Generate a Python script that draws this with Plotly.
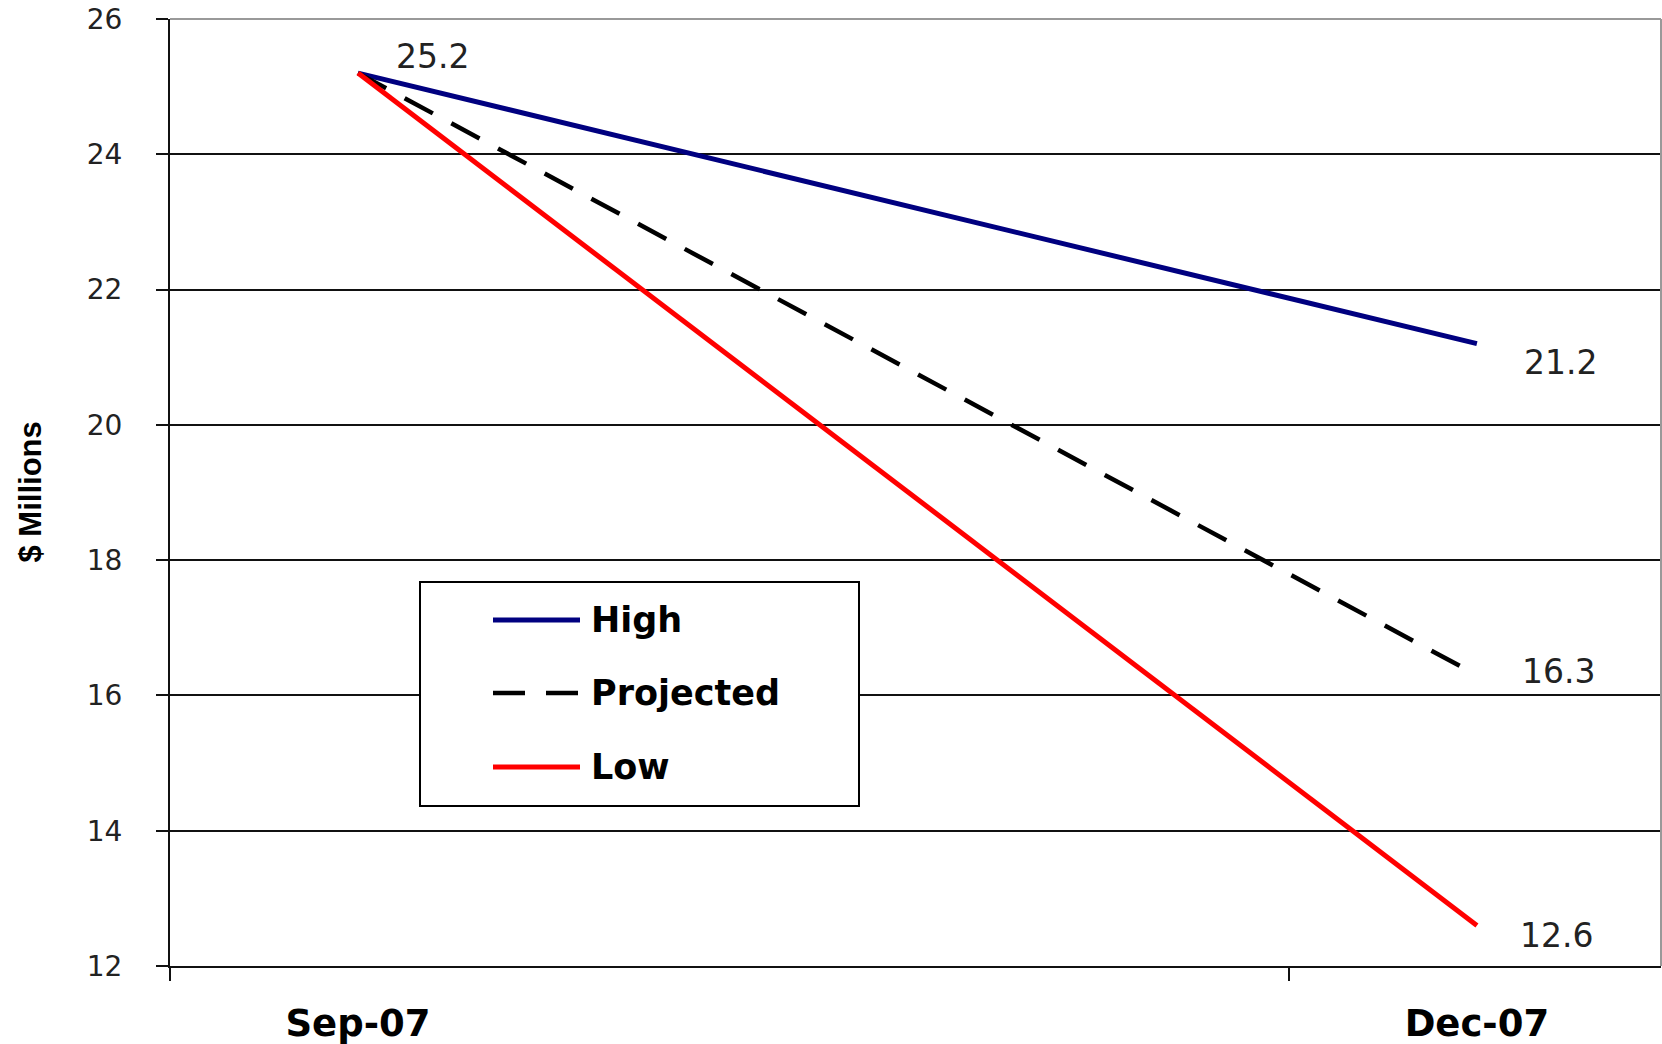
import plotly.graph_objects as go

# Quarter end points
periods = ["Sep-07", "Dec-07"]
period_pos = [0, 1]

# Scenario values, $ millions
high = [25.2, 21.2]
projected = [25.2, 16.3]
low = [25.2, 12.6]

y_ticks = [12, 14, 16, 18, 20, 22, 24, 26]

W, H = 1662, 1044
ML, MR, MT, MB = 170, 1, 19, 78
PW, PH = W - ML - MR, H - MT - MB


def px_x(px):
    return (px - ML) / PW


def px_y(py):
    return (H - MB - py) / PH


fig = go.Figure()

series = [
    ("High", high, dict(color="#000080", width=5)),
    ("Projected", projected, dict(color="#000000", width=4.5, dash="32px,21px")),
    ("Low", low, dict(color="#FF0000", width=5)),
]
for name, vals, line in series:
    fig.add_trace(go.Scatter(x=period_pos, y=vals, mode="lines", name=name,
                             line=line, showlegend=False))

# End-point value labels
label_font = dict(family="DejaVu Sans", size=33, color="#222222")
annotations = [
    dict(x=period_pos[0], y=high[0], text=f"{high[0]:.1f}", showarrow=False,
         xshift=75, yshift=17, font=label_font),
    dict(x=period_pos[1], y=high[1], text=f"{high[1]:.1f}", showarrow=False,
         xshift=84, yshift=-19, font=label_font),
    dict(x=period_pos[1], y=projected[1], text=f"{projected[1]:.1f}", showarrow=False,
         xshift=82, yshift=4, font=label_font),
    dict(x=period_pos[1], y=low[1], text=f"{low[1]:.1f}", showarrow=False,
         xshift=80, yshift=-10, font=label_font),
]

# Axis title
annotations.append(dict(xref="paper", yref="paper", x=px_x(30), y=0.5,
                        text="<b>$ Millions</b>", textangle=-90, showarrow=False,
                        xanchor="center", yanchor="middle",
                        font=dict(family="Liberation Sans", size=31, color="#000000")))

# Legend box drawn with shapes and text
shapes = [
    dict(type="rect", xref="paper", yref="paper", x0=px_x(420), x1=px_x(859),
         y0=px_y(806), y1=px_y(582), line=dict(color="#000000", width=2),
         fillcolor="#FFFFFF", layer="above"),
    # plot-area border on top and right
    dict(type="line", xref="paper", yref="paper", x0=0, x1=1, y0=1, y1=1,
         line=dict(color="#999999", width=2), layer="above"),
    dict(type="line", xref="paper", yref="paper", x0=1, x1=1, y0=0, y1=1,
         line=dict(color="#999999", width=2), layer="above"),
]
legend_rows = [620, 693, 767]
for (name, vals, line), ry in zip(series, legend_rows):
    shapes.append(dict(type="line", xref="paper", yref="paper",
                       x0=px_x(493), x1=px_x(580), y0=px_y(ry), y1=px_y(ry),
                       line=dict(color=line["color"], width=line["width"],
                                 dash=line.get("dash", "solid")),
                       layer="above"))
    annotations.append(dict(xref="paper", yref="paper", x=px_x(589), y=px_y(ry),
                            text=f"<b>{name}</b>", showarrow=False,
                            xanchor="left", yanchor="middle",
                            font=dict(family="DejaVu Sans", size=35, color="#000000")))

fig.update_layout(
    width=W, height=H,
    margin=dict(l=ML, r=MR, t=MT, b=MB, pad=0, autoexpand=False),
    paper_bgcolor="#FFFFFF", plot_bgcolor="#FFFFFF",
    shapes=shapes, annotations=annotations,
    showlegend=False,
)

fig.update_xaxes(
    automargin=False,
    range=[-0.168, 1.1645],
    tickvals=period_pos, ticktext=periods,
    ticks="", ticklabelstandoff=24,
    tickfont=dict(family="DejaVu Sans", size=37, color="#000000", weight="bold"),
    showgrid=False, zeroline=False,
    showline=True, linecolor="#111111", linewidth=2,
    minor=dict(tick0=-0.1679, dtick=1, ticks="outside", ticklen=13,
               tickcolor="#111111", tickwidth=2, showgrid=False),
)

fig.update_yaxes(
    automargin=False,
    range=[12, 26], tickvals=y_ticks,
    ticks="outside", ticklen=12, tickcolor="#111111", tickwidth=2,
    ticklabelstandoff=28,
    tickfont=dict(family="DejaVu Sans", size=28, color="#222222"),
    showgrid=True, gridcolor="#111111", gridwidth=1.5,
    zeroline=False,
    showline=True, linecolor="#111111", linewidth=2,
)

fig.write_html("out.html")
